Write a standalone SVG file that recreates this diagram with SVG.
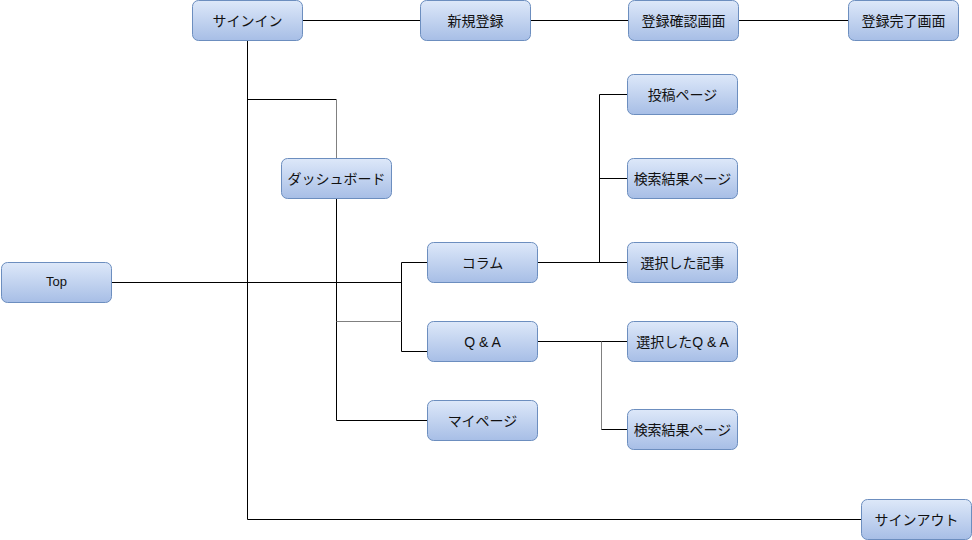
<svg xmlns="http://www.w3.org/2000/svg" width="972" height="540" viewBox="0 0 972 540">
<defs>
<linearGradient id="g" x1="0" y1="0" x2="0" y2="1">
<stop offset="0" stop-color="#dde8f9"/>
<stop offset="1" stop-color="#a7bee6"/>
</linearGradient>
<style>
.n rect{fill:url(#g);stroke:#6c8ebf;stroke-width:1}
.n text{font-family:"Liberation Sans","Noto Sans CJK JP",sans-serif;font-size:14px;fill:#111;text-anchor:middle;dominant-baseline:central}
.n text.s{font-size:13px}
.e path{fill:none;stroke:#000;stroke-width:1}
.e path.g{stroke:#808080}
</style>
</defs>
<rect width="972" height="540" fill="#fff"/>
<g id="edges" class="e">
<path d="M302.5 20.5H420.5"/>
<path d="M530.5 20.5H628.5"/>
<path d="M738.5 20.5H848.5"/>
<path d="M247.5 40.5V519.5H861.5"/>
<path d="M247.5 99.5H336.5"/>
<path class="g" d="M336.5 99.5V158.5"/>
<path d="M111.5 282.5H401.5"/>
<path d="M336.5 198.5V420.5H427.5"/>
<path d="M427.5 262.5H401.5V351.5H427.5"/>
<path class="g" d="M336.5 321.5H401.5"/>
<path d="M537.5 262.5H627.5"/>
<path d="M599.5 262.5V94.5H627.5"/>
<path d="M599.5 178.5H627.5"/>
<path d="M537.5 341.5H627.5"/>
<path class="g" d="M601.5 341.5V429.5"/>
<path d="M601.5 429.5H627.5"/>
</g>
<g id="top" class="n"><rect x="1.5" y="262.5" width="110" height="40" rx="6"/><text class="s" x="56.5" y="281.5">Top</text></g>
<g id="signin" class="n"><rect x="192.5" y="0.5" width="110" height="40" rx="6"/><text x="247.5" y="20.5">サインイン</text></g>
<g id="register" class="n"><rect x="420.5" y="0.5" width="110" height="40" rx="6"/><text x="475.5" y="20.5">新規登録</text></g>
<g id="confirm" class="n"><rect x="628.5" y="0.5" width="110" height="40" rx="6"/><text x="683.5" y="20.5">登録確認画面</text></g>
<g id="complete" class="n"><rect x="848.5" y="0.5" width="110" height="40" rx="6"/><text x="903.5" y="20.5">登録完了画面</text></g>
<g id="dashboard" class="n"><rect x="281.5" y="158.5" width="110" height="40" rx="6"/><text x="336.5" y="178.5">ダッシュボード</text></g>
<g id="column" class="n"><rect x="427.5" y="242.5" width="110" height="40" rx="6"/><text x="482.5" y="262.5">コラム</text></g>
<g id="qa" class="n"><rect x="427.5" y="321.5" width="110" height="40" rx="6"/><text x="482.5" y="341.5">Q &amp; A</text></g>
<g id="mypage" class="n"><rect x="427.5" y="400.5" width="110" height="40" rx="6"/><text x="482.5" y="420.5">マイページ</text></g>
<g id="post" class="n"><rect x="627.5" y="74.5" width="110" height="40" rx="6"/><text x="682.5" y="94.5">投稿ページ</text></g>
<g id="search1" class="n"><rect x="627.5" y="158.5" width="110" height="40" rx="6"/><text x="682.5" y="178.5">検索結果ページ</text></g>
<g id="article" class="n"><rect x="627.5" y="242.5" width="110" height="40" rx="6"/><text x="682.5" y="262.5">選択した記事</text></g>
<g id="selqa" class="n"><rect x="627.5" y="321.5" width="110" height="40" rx="6"/><text x="682.5" y="341.5">選択したQ &amp; A</text></g>
<g id="search2" class="n"><rect x="627.5" y="409.5" width="110" height="40" rx="6"/><text x="682.5" y="429.5">検索結果ページ</text></g>
<g id="signout" class="n"><rect x="861.5" y="499.5" width="110" height="40" rx="6"/><text x="916.5" y="519.5">サインアウト</text></g>
</svg>
